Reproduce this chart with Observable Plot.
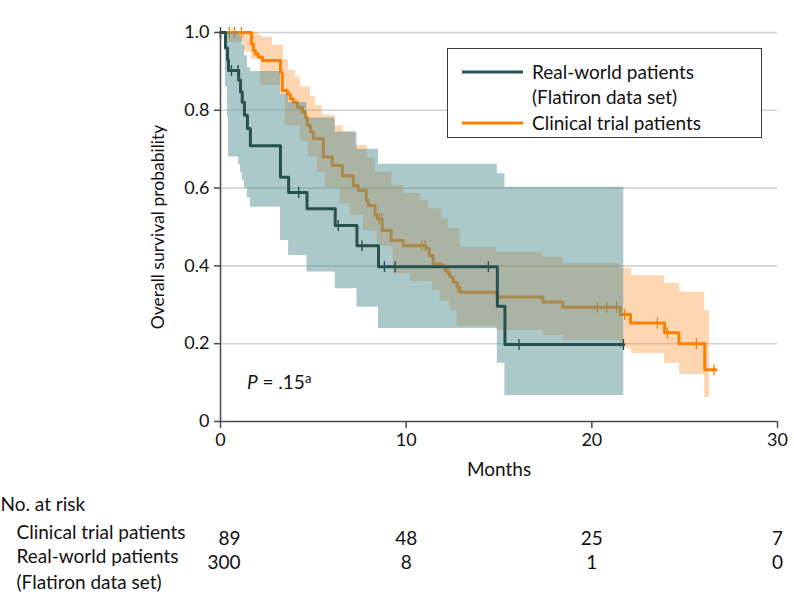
<!DOCTYPE html>
<html><head><meta charset="utf-8">
<script src="https://cdn.jsdelivr.net/npm/d3@7"></script>
<script src="https://cdn.jsdelivr.net/npm/@observablehq/plot@0.6"></script>
<style>
body{margin:0;background:#fff;}
#chart svg{display:block;}
</style></head><body><div id="chart"></div><script>
// ---------- data ----------
const seriesNames = ["Real-world patients", "(Flatiron data set)", "Clinical trial patients"];
const xTicks = [0, 10, 20, 30];
const yTicks = [0, 0.2, 0.4, 0.6, 0.8, 1.0];
const xLabel = "Months";
const yLabel = "Overall survival probability";
const pLabel = ["P", " = .15", "a"];

// Real-world (Flatiron) Kaplan-Meier steps
const rwTime = [0, 0.27, 0.38, 0.43, 0.98, 1.08, 1.17, 1.29, 1.45, 1.61, 3.23, 3.67, 4.66, 6.18, 7.35, 8.51, 14.91, 15.32];
const rwSurv = [1.0, 0.96, 0.93, 0.902, 0.877, 0.847, 0.821, 0.787, 0.753, 0.709, 0.628, 0.589, 0.547, 0.504, 0.452, 0.398, 0.296, 0.198];
const rwEnd = 21.72;
const rwCensor = [0, 0.59, 0.95, 4.21, 6.34, 7.62, 8.83, 9.41, 14.43, 16.08, 21.7];
const rwBandLow = [1.0, 0.86, 0.78, 0.68, 0.66, 0.64, 0.62, 0.60, 0.575, 0.551, 0.465, 0.427, 0.384, 0.341, 0.294, 0.239, 0.15, 0.067];
const rwBandHigh = [1.0, 1.0, 1.0, 1.0, 0.995, 0.985, 0.967, 0.94, 0.91, 0.90, 0.84, 0.82, 0.78, 0.744, 0.70, 0.661, 0.637, 0.602];

// Clinical trial Kaplan-Meier steps
const ctTime = [0, 1.67, 1.77, 1.88, 2.04, 2.26, 3.23, 3.33, 3.6, 3.76, 3.92, 4.14, 4.41, 4.57, 4.68, 4.84, 5.0, 5.54, 6.02, 6.56, 7.15, 7.42, 7.85, 7.96, 8.33, 8.44, 8.71, 9.19, 9.84, 11.08, 11.24, 11.45, 11.94, 12.1, 12.26, 12.37, 12.53, 12.74, 12.9, 14.89, 17.37, 18.44, 21.54, 22.08, 23.92, 24.69, 26.08];
const ctSurv = [1.0, 0.971, 0.954, 0.945, 0.937, 0.928, 0.898, 0.851, 0.842, 0.83, 0.821, 0.808, 0.795, 0.782, 0.761, 0.745, 0.727, 0.68, 0.658, 0.632, 0.607, 0.594, 0.568, 0.555, 0.53, 0.521, 0.491, 0.465, 0.452, 0.445, 0.427, 0.405, 0.40, 0.388, 0.38, 0.371, 0.358, 0.345, 0.332, 0.32, 0.307, 0.294, 0.275, 0.253, 0.228, 0.2, 0.133];
const ctEnd = 26.7;
const ctCensor = [0.48, 0.75, 1.13, 8.55, 8.68, 10.84, 11.02, 12.8, 20.3, 20.8, 21.34, 21.77, 23.53, 24.07, 25.63, 26.58];
const ctHighTime = [0, 2.04, 2.26, 2.8, 3.39, 3.66, 4.03, 4.3, 4.84, 5.11, 5.48, 6.18, 6.61, 7.26, 7.9, 8.33, 9.23, 9.86, 10.75, 11.2, 11.92, 12.27, 12.9, 14.89, 17.37, 18.44, 21.5, 22.15, 23.92, 24.73, 26.08];
const ctHigh = [1.0, 0.992, 0.987, 0.967, 0.93, 0.902, 0.885, 0.86, 0.835, 0.812, 0.787, 0.761, 0.744, 0.71, 0.676, 0.641, 0.607, 0.586, 0.568, 0.547, 0.522, 0.496, 0.448, 0.435, 0.422, 0.407, 0.393, 0.375, 0.355, 0.332, 0.285];
const ctLowTime = [0, 0.43, 1.24, 1.67, 2.15, 3.23, 3.49, 4.3, 4.73, 5.22, 5.65, 6.45, 6.99, 7.69, 8.44, 9.3, 10.22, 11.4, 11.83, 12.37, 12.74, 14.89, 17.37, 18.44, 21.5, 22.15, 23.92, 24.73, 26.08];
const ctLow = [1.0, 0.975, 0.95, 0.93, 0.864, 0.838, 0.76, 0.72, 0.68, 0.64, 0.6, 0.56, 0.53, 0.49, 0.45, 0.38, 0.36, 0.337, 0.31, 0.285, 0.245, 0.234, 0.221, 0.208, 0.188, 0.175, 0.149, 0.121, 0.062];
const ctBandEnd = 26.34;

// Number at risk table
const riskTitle = "No. at risk";
const riskTimes = [0, 10, 20, 30];
const riskClinical = [89, 48, 25, 7];
const riskReal = [300, 8, 1, 0];

// ---------- helpers ----------
const darkColor = "#27514f";
const orangeColor = "#ff8000";
const textColor = "#111";
const fontFamily = "Lato, 'Noto Sans', sans-serif";
const fs = 19;
const stepAt = (ts, vs, t) => { let v = vs[0]; for (let i = 0; i < ts.length; i++) if (ts[i] <= t + 1e-9) v = vs[i]; return v; };
const kmRows = (ts, vs, end) => ts.map((t, i) => ({t, s: vs[i]})).concat([{t: end, s: vs[vs.length - 1]}]);
const bandRows = (lt, lv, ht, hv, end) => {
  const ts = Array.from(new Set([...lt, ...ht])).sort((a, b) => a - b);
  ts.push(end);
  return ts.map(t => ({t, lo: stepAt(lt, lv, t), hi: stepAt(ht, hv, t)}));
};
const censorRows = (cts, ts, vs) => cts.map(t => ({t, s: stepAt(ts, vs, t)}));
const vTick = {draw(ctx, size) { const r = Math.sqrt(size / Math.PI); ctx.moveTo(0, -r); ctx.lineTo(0, r); }};

const rwLine = kmRows(rwTime, rwSurv, rwEnd);
const ctLine = kmRows(ctTime, ctSurv, ctEnd);
const rwBand = bandRows(rwTime, rwBandLow, rwTime, rwBandHigh, rwEnd);
const ctBand = bandRows(ctLowTime, ctLow, ctHighTime, ctHigh, ctBandEnd);
const rwC = censorRows(rwCensor, rwTime, rwSurv);
const ctC = censorRows(ctCensor, ctTime, ctSurv);
const riskRows1 = riskTimes.map((t, i) => ({t, v: String(riskClinical[i])}));
const riskRows2 = riskTimes.map((t, i) => ({t, v: String(riskReal[i])}));
const txt = {fill: textColor, fontSize: fs};

const plot = Plot.plot({
  width: 794, height: 612,
  marginLeft: 220, marginRight: 17, marginTop: 32, marginBottom: 191,
  style: {fontFamily, fontSize: "18px", color: textColor, background: "#fff", overflow: "visible"},
  x: {domain: [0, 30]},
  y: {domain: [0, 1]},
  marks: [
    Plot.gridY(yTicks.filter(d => d > 0), {stroke: "#d2d2d2", strokeOpacity: 1, strokeWidth: 1.6}),
    Plot.areaY(ctBand, {x: "t", y1: "lo", y2: "hi", curve: "step-after", fill: "#fb8a1c", fillOpacity: 0.34}),
    Plot.lineY(ctLine, {x: "t", y: "s", curve: "step-after", stroke: orangeColor, strokeWidth: 3}),
    Plot.dot(ctC, {x: "t", y: "s", symbol: vTick, r: 5.5, stroke: orangeColor, strokeWidth: 1.4, fill: "none"}),
    Plot.areaY(rwBand, {x: "t", y1: "lo", y2: "hi", curve: "step-after", fill: "rgb(87,145,149)", fillOpacity: 0.5}),
    Plot.lineY(rwLine, {x: "t", y: "s", curve: "step-after", stroke: darkColor, strokeWidth: 3}),
    Plot.dot(rwC, {x: "t", y: "s", symbol: vTick, r: 5.5, stroke: darkColor, strokeWidth: 1.4, fill: "none"}),
    Plot.ruleX([0], {stroke: "#4a4a4a", strokeWidth: 1.5}),
    Plot.ruleY([0], {stroke: "#4a4a4a", strokeWidth: 1.5}),
    Plot.axisX({ticks: xTicks, tickSize: 7, tickPadding: 5, label: null, stroke: "#4a4a4a", strokeWidth: 1.5, fill: textColor}),
    Plot.axisY({ticks: yTicks, tickSize: 6, tickPadding: 5, label: null, stroke: "#4a4a4a", strokeWidth: 1.5, fill: textColor,
      tickFormat: d => d === 0 ? "0" : d.toFixed(1)}),
    Plot.text([xLabel], {frameAnchor: "bottom", dy: 54, ...txt}),
    Plot.text([yLabel], {frameAnchor: "left", dx: -62, rotate: -90, textAnchor: "middle", fill: textColor, fontSize: 17.5}),
    Plot.text([riskTitle], {frameAnchor: "bottom-left", dx: -220, dy: 89, textAnchor: "start", ...txt}),
    Plot.text([seriesNames[2]], {frameAnchor: "bottom-left", dx: -204, dy: 117, textAnchor: "start", ...txt}),
    Plot.text([seriesNames[0]], {frameAnchor: "bottom-left", dx: -204, dy: 141, textAnchor: "start", ...txt}),
    Plot.text([seriesNames[1]], {frameAnchor: "bottom-left", dx: -204, dy: 167, textAnchor: "start", ...txt}),
    Plot.text(riskRows1.slice(0, 1), {x: "t", y: () => 0, text: "v", dx: 20, dy: 117, textAnchor: "end", ...txt}),
    Plot.text(riskRows1.slice(1), {x: "t", y: () => 0, text: "v", dy: 117, textAnchor: "middle", ...txt}),
    Plot.text(riskRows2.slice(0, 1), {x: "t", y: () => 0, text: "v", dx: 20, dy: 141, textAnchor: "end", ...txt}),
    Plot.text(riskRows2.slice(1), {x: "t", y: () => 0, text: "v", dy: 141, textAnchor: "middle", ...txt})
  ]
});
document.getElementById("chart").appendChild(plot);

// legend and P value annotation
const svg = d3.select(plot);
const lg = svg.append("g").attr("font-family", fontFamily).attr("font-size", fs).attr("fill", textColor).attr("text-anchor", "start");
lg.append("rect").attr("x", 447.5).attr("y", 48.5).attr("width", 314).attr("height", 89)
  .attr("fill", "#fff").attr("stroke", "#3a3a3a").attr("stroke-width", 1);
lg.append("line").attr("x1", 462).attr("x2", 523).attr("y1", 72).attr("y2", 72).attr("stroke", darkColor).attr("stroke-width", 3);
lg.append("line").attr("x1", 462).attr("x2", 523).attr("y1", 123).attr("y2", 123).attr("stroke", orangeColor).attr("stroke-width", 3);
lg.append("text").attr("x", 532).attr("y", 72).attr("dy", "0.35em").text(seriesNames[0]);
lg.append("text").attr("x", 532).attr("y", 97).attr("dy", "0.35em").text(seriesNames[1]);
lg.append("text").attr("x", 532).attr("y", 123).attr("dy", "0.35em").text(seriesNames[2]);

const xs = plot.scale("x"), ys = plot.scale("y");
const pt = svg.append("text").attr("font-family", fontFamily).attr("font-size", fs).attr("fill", textColor)
  .attr("text-anchor", "start")
  .attr("x", xs.apply(1.45)).attr("y", ys.apply(0.1)).attr("dy", "0.35em");
pt.append("tspan").attr("font-style", "italic").text(pLabel[0]);
pt.append("tspan").text(pLabel[1]);
pt.append("tspan").attr("dy", "-0.45em").attr("font-size", 13).text(pLabel[2]);
</script></body></html>
